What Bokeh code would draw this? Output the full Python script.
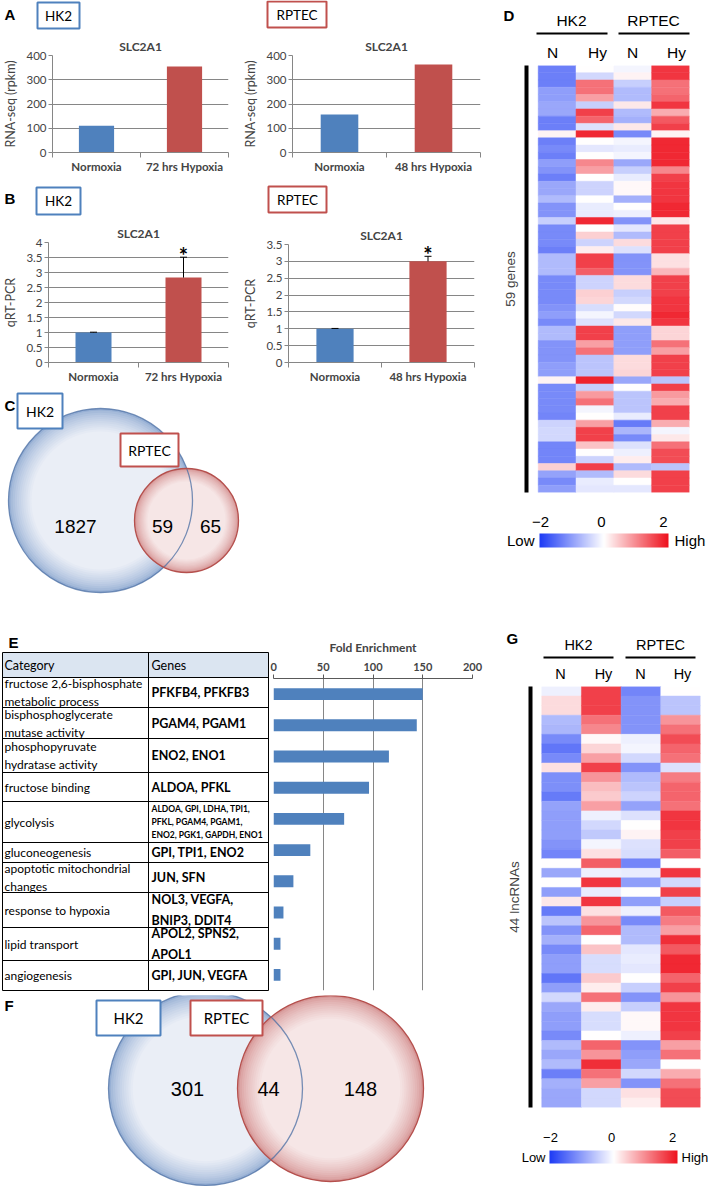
import numpy as np
from bokeh.plotting import figure
from bokeh.layouts import row, column
from bokeh.models import (Range1d, FactorRange, FixedTicker, LinearColorMapper,
                          ColumnDataSource, NumeralTickFormatter)
from bokeh.core.properties import value
from bokeh.embed import file_html
from bokeh.resources import INLINE

# ---------------------------------------------------------------- data
cond_hk2 = ["Normoxia", "72 hrs Hypoxia"]
cond_rptec = ["Normoxia", "48 hrs Hypoxia"]
bar_colors = ["#4f81bd", "#c0504d"]
rnaseq_hk2 = [110, 355]
rnaseq_rptec = [157, 363]
qpcr_hk2 = [1.0, 2.83]
qpcr_hk2_err = [0.01, 0.68]
qpcr_rptec = [1.0, 3.0]
qpcr_rptec_err = [0.01, 0.15]
sig_hk2 = ["", "*"]
sig_rptec = ["", "*"]

venn_genes = [1827, 59, 65]      # HK2 only, shared, RPTEC only
venn_lncrna = [301, 44, 148]

go_terms = ["fructose 2,6-bisphosphate\nmetabolic process",
            "bisphosphoglycerate\nmutase activity",
            "phosphopyruvate\nhydratase activity",
            "fructose binding",
            "glycolysis",
            "gluconeogenesis",
            "apoptotic mitochondrial\nchanges",
            "response to hypoxia",
            "lipid transport",
            "angiogenesis"]
go_genes = ["PFKFB4, PFKFB3", "PGAM4, PGAM1", "ENO2, ENO1", "ALDOA, PFKL",
            "ALDOA, GPI, LDHA, TPI1,\nPFKL, PGAM4, PGAM1,\nENO2, PGK1, GAPDH, ENO1",
            "GPI, TPI1, ENO2", "JUN, SFN", "NOL3, VEGFA,\nBNIP3, DDIT4",
            "APOL2, SPNS2,\nAPOL1", "GPI, JUN, VEGFA"]
fold_enrichment = [150, 144, 116, 96, 71, 37, 20, 10, 7, 7]
fold_ticks = [0, 50, 100, 150, 200]

heat_groups = ["HK2", "RPTEC"]
heat_conds = ["N", "Hy", "N", "Hy"]

genes_hk2_n = [-1.3, -1.3, -1.3, -1.0, -1.0, -0.9, -0.9, -1.3, -1.3, 0.1, -1.3, -1.2, -1.3, -1.0, -1.1,
               -1.3, -0.9, -0.9, -0.7, -1.1, -1.1, -0.5, -1.2, -1.2, -1.2, -1.3, -0.7, -0.7, -0.7, -1.2,
               -1.2, -1.2, -1.2, -1.1, -1.0, -1.2, -0.7, -0.7, -1.1, -1.1, -1.1, -1.0, -1.0, 0.1, -1.2,
               -1.2, -1.2, -1.2, -1.25, -0.45, -0.4, -0.4, -1.25, -1.25, -1.25, 0.4, -0.95, -1.2, -1.0]
genes_hk2_hy = [0.0, -0.4, 1.2, 1.2, 0.8, -0.5, 1.6, 1.3, -0.3, 1.8, 0.0, -0.25, 0.0, 1.0, 0.8,
                0.0, -0.45, -0.45, 0.0, -0.2, -0.2, 1.8, 0.0, 0.4, -0.45, 0.15, 1.6, 1.6, 1.35, -0.45,
                -0.45, 0.4, 0.35, -0.35, -0.1, -0.3, 1.6, 1.6, 0.8, 1.2, -0.6, -0.6, -0.6, 1.85, -0.5,
                0.85, 1.2, -0.1, 0.0, 0.8, 1.6, 1.6, 0.5, 0.0, -0.45, 1.6, -0.7, -0.2, -0.25]
genes_rptec_n = [-0.1, 0.1, -0.5, -0.7, -0.7, 0.2, -0.7, -0.8, 0.2, -1.2, -0.1, -0.2, -0.1, -0.9, -0.5,
                 -0.2, 0.05, 0.05, -0.8, 0.0, -0.15, -1.1, -0.25, -0.7, 0.3, -0.3, -1.1, -1.1, -1.1, 0.3,
                 0.3, -0.5, -0.4, 0.02, -0.4, 0.2, -1.0, -1.0, -1.0, -1.0, 0.3, 0.3, 0.35, -0.9, 0.0,
                 -0.6, -0.6, -0.6, -0.2, -1.35, -0.75, -1.2, -0.3, -0.15, 0.15, -0.7, 0.3, 0.0, -0.25]
genes_rptec_hy = [1.7, 1.7, 1.2, 1.2, 1.3, 1.7, 0.7, 1.4, 1.6, 0.1, 1.8, 1.8, 1.8, 1.8, 1.0,
                  1.6, 1.7, 1.7, 1.7, 1.8, 1.8, 0.2, 1.6, 1.6, 1.6, 1.6, 0.25, 0.25, 0.6, 1.6,
                  1.6, 1.6, 1.7, 1.7, 1.8, 1.7, 0.35, 0.35, 1.2, 0.8, 1.6, 1.6, 1.6, -0.6, 1.6,
                  0.85, 0.7, 1.6, 1.6, 0.7, -0.1, 0.2, 1.2, 1.5, 1.5, -0.6, 1.6, 1.6, 1.6]

lnc_hk2_n = [-0.15, 0.3, 0.3, -0.7, -0.75, -1.2, -1.4, -1.2, 0.25, -1.15, -1.15, -1.35, -0.95, -1.0, -1.0,
             -1.0, -1.1, -1.25, 0.0, -0.9, 0.0, -1.0, 0.2, -1.35, -0.6, -1.1, -0.8, -1.2, -1.0, -1.0,
             -1.4, -1.0, -0.4, -0.9, -1.0, -1.0, -1.2, -0.7, -0.9, -0.7, -1.3, -0.8, -0.9, -0.9]
lnc_hk2_hy = [1.6, 1.6, 1.6, 1.2, 1.0, 0.05, 0.35, 0.8, 1.6, 0.9, 0.55, 0.45, 0.8, -0.15, -0.4,
              -0.55, -0.1, 0.25, 1.35, -0.15, 1.7, -0.2, 1.7, 0.25, 0.9, 1.3, 0.0, 0.5, -0.35, -0.35,
              0.45, 0.15, 1.2, 0.15, -0.35, -0.35, 0.0, 1.3, 0.9, 1.75, 1.2, 0.8, -0.4, -0.4]
lnc_rptec_n = [-1.25, -1.1, -1.1, -1.1, -1.1, -0.15, -0.1, -0.4, -1.1, -0.7, -0.6, -0.45, -0.95, -0.3, 0.0,
               0.1, -0.3, -0.35, -1.25, -0.2, -1.0, 0.0, -1.0, -0.15, -1.2, -0.7, -0.7, -0.25, -0.2, -0.25,
               0.0, -0.5, -1.1, -0.5, 0.05, 0.05, -0.15, -1.1, -1.0, -0.9, -0.4, -1.1, 0.25, 0.15]
lnc_rptec_hy = [0.0, -0.6, -0.6, 0.9, 1.2, 1.5, 1.3, 1.2, -0.3, 1.1, 1.3, 1.3, 1.2, 1.7, 1.7,
                1.6, 1.6, 1.35, 0.0, 1.7, -0.4, 1.6, -0.5, 1.4, 1.1, 0.8, 1.75, 1.4, 1.8, 1.8,
                1.3, 1.6, 0.9, 1.7, 1.7, 1.7, 1.6, 0.8, 1.2, 0.0, 0.7, 1.2, 1.5, 1.5]

# ---------------------------------------------------------------- style
CAL = "Lato"
ARI = "Liberation Sans"
BLUE = "#4f81bd"
RED = "#c0504d"
AXC = "#868686"


def mix(c1, c2, t):
    return tuple(int(round(a + (b - a) * t)) for a, b in zip(c1, c2))


def hexc(c):
    return "#%02x%02x%02x" % c


LOWC, MIDC, HIGHC = (30, 60, 245), (255, 255, 255), (238, 18, 30)
PALETTE = []
for k in range(256):
    t = k / 255 * 2 - 1
    PALETTE.append(hexc(mix(MIDC, LOWC, -t) if t < 0 else mix(MIDC, HIGHC, t)))
MAPPER = LinearColorMapper(palette=PALETTE, low=-2, high=2)


def canvas(rx0, ry0, w, h, flip=True):
    rx1 = rx0 + w
    ry1 = ry0 + h
    yr = Range1d(ry1, ry0) if flip else Range1d(-ry1, -ry0)
    p = figure(width=w, height=h, x_range=Range1d(rx0, rx1), y_range=yr,
               x_axis_location=None, y_axis_location=None,
               toolbar_location=None, output_backend="svg", min_border=0,
               frame_align=False)
    p.grid.visible = False
    p.outline_line_color = None
    return p


def txt(p, x, y, s, size, font=ARI, bold=False, align="center", baseline="middle",
        color="black", lh=1.2):
    p.text(x=[x], y=[y], text=[s], text_font=value(font), text_font_size=f"{size}px",
           text_font_style="bold" if bold else "normal", text_align=align,
           text_baseline=baseline, text_color=color, text_line_height=lh)


def box(p, l, r, t, b, color, lw=2):
    p.quad(left=[l], right=[r], top=[t], bottom=[b], fill_color="white",
           line_color=color, line_width=lw)


def excel_chart(w, h, cats, vals, ymax, yticks, ylabel, borders, err=None, sig=None, fmt=None):
    l, r, t, b = borders
    n = len(cats)
    xs = [i + 0.5 for i in range(n)]          # category centres
    p = figure(width=w, height=h, x_range=Range1d(0, n), y_range=Range1d(0, ymax),
               toolbar_location=None, output_backend="svg", frame_align=False,
               min_border_left=l, min_border_right=r, min_border_top=t, min_border_bottom=b)
    p.title.text = "SLC2A1"
    p.title.align = "center"
    p.title.text_font = CAL
    p.title.text_font_size = "12px"
    p.title.text_font_style = "bold"
    p.title.standoff = 4
    p.outline_line_color = None
    p.xgrid.visible = False
    p.ygrid.grid_line_color = AXC
    p.ygrid.grid_line_width = 1
    p.yaxis.ticker = FixedTicker(ticks=yticks)
    if fmt is not None:
        p.yaxis.formatter = fmt
    p.yaxis.axis_label = ylabel
    p.yaxis.axis_label_text_font = CAL
    p.yaxis.axis_label_text_font_size = "12.5px"
    p.yaxis.axis_label_text_font_style = "normal"
    p.yaxis.axis_label_standoff = 5
    p.yaxis.major_label_text_font = CAL
    p.yaxis.major_label_text_font_size = "11.5px"
    p.yaxis.major_label_standoff = 2
    p.yaxis.major_tick_out = 4
    p.yaxis.major_tick_in = 0
    p.yaxis.minor_tick_line_color = None
    p.yaxis.axis_line_color = AXC
    p.yaxis.major_tick_line_color = AXC
    # x axis: labels at category centres, small separator ticks at category edges
    p.xaxis.ticker = FixedTicker(ticks=xs, minor_ticks=list(range(n + 1)))
    p.xaxis.major_label_overrides = {x: c for x, c in zip(xs, cats)}
    p.xaxis.axis_line_color = AXC
    p.xaxis.major_tick_line_color = None
    p.xaxis.major_tick_out = 0
    p.xaxis.major_tick_in = 0
    p.xaxis.minor_tick_line_color = AXC
    p.xaxis.minor_tick_out = 5
    p.xaxis.minor_tick_in = 0
    p.xaxis.major_label_text_font = CAL
    p.xaxis.major_label_text_font_style = "bold"
    p.xaxis.major_label_text_font_size = "11.5px"
    p.xaxis.major_label_standoff = 2
    src = dict(x=xs, cat=list(cats), top=list(vals), color=bar_colors)
    if err is not None:
        src["hi"] = [v + e for v, e in zip(vals, err)]
        src["sig"] = sig
    source = ColumnDataSource(src)
    p.vbar(x="x", top="top", width=0.4, fill_color="color", line_color=None, source=source)
    if err is not None:
        p.segment(x0="x", y0="top", x1="x", y1="hi", line_color="black", line_width=1, source=source)
        p.scatter(x="x", y="hi", marker="dash", size=7, line_color="black", line_width=1, source=source)
        p.text(x="x", y="hi", text="sig", text_font=value(CAL), text_font_size="22px",
               text_font_style="bold", text_align="center", text_baseline="top",
               y_offset=-15, source=source)
    return p


def sphere(p, cx, cy, r, rim, core):
    n = 12
    for k in range(n):
        f = k / (n - 1)
        p.circle(x=[cx], y=[cy], radius=r * (1 - 0.25 * f), fill_color=hexc(mix(rim, core, f ** 0.7)),
                 line_color=None)


def ring(p, cx, cy, r, color, alpha=1.0, lw=1.3):
    p.circle(x=[cx], y=[cy], radius=r, fill_color=None, line_color=color, line_alpha=alpha, line_width=lw)


def heat_fig(w, h, cols, borders, xstart, label):
    l, r, t, b = borders
    n = len(cols[0])
    xs, ys, vs = [], [], []
    for j, c in enumerate(cols):
        for i, v in enumerate(c):
            xs.append(j)
            ys.append(i)
            vs.append(v)
    src = ColumnDataSource(dict(x=xs, y=ys, v=vs))
    p = figure(width=w, height=h, x_range=Range1d(xstart, len(cols) - 0.5),
               y_range=Range1d(n - 0.5, -0.5), x_axis_location=None, y_axis_location="left",
               toolbar_location=None, output_backend="svg", frame_align=False,
               min_border_left=l, min_border_right=r, min_border_top=t, min_border_bottom=b)
    p.grid.visible = False
    p.outline_line_color = None
    cm = {"field": "v", "transform": MAPPER}
    p.rect(x="x", y="y", width=1, height=1, fill_color=cm, line_color=cm, line_width=0.5, source=src)
    ax = p.yaxis[0]
    ax.ticker = FixedTicker(ticks=[])
    ax.axis_line_width = 4
    ax.axis_line_color = "black"
    ax.major_tick_out = 0
    ax.major_tick_in = 0
    ax.minor_tick_line_color = None
    ax.axis_label = label
    ax.axis_label_text_font = ARI
    ax.axis_label_text_font_size = "13.5px"
    ax.axis_label_text_font_style = "normal"
    ax.axis_label_standoff = 9
    return p


def heat_header(p, letter, lx, ly, gx, gy, line_y, segs, cond_x, cond_y, fs):
    txt(p, lx, ly, letter, 15, ARI, bold=True, align="left")
    for g, x in zip(heat_groups, gx):
        txt(p, x, gy, g, fs, ARI)
    for (a, b2) in segs:
        p.segment(x0=[a], y0=[line_y], x1=[b2], y1=[line_y], line_color="black", line_width=2)
    for c, x in zip(heat_conds, cond_x):
        txt(p, x, cond_y, c, fs, ARI)


def cbar(p, x0, x1, y0, y1, lab_y, lab_x, low_x, high_x, fs):
    # canvas drawn with negated y (flip=False)
    p.image(image=[np.linspace(-2, 2, 256)[None, :]], x=x0, y=-y1, dw=x1 - x0, dh=y1 - y0,
            color_mapper=MAPPER)
    for s, x in zip(["\u22122", "0", "2"], lab_x):
        txt(p, x, -lab_y, s, fs, ARI)
    txt(p, low_x, -(y0 + y1) / 2, "Low", fs, ARI, align="right")
    txt(p, high_x, -(y0 + y1) / 2, "High", fs, ARI, align="left")


# ---------------------------------------------------------------- sizes (1 px = 1 ref px)
LW, RW = 485, 223

# ---------------- panel A (ref y 0..175)
A1h = canvas(0, 0, 240, 30)
txt(A1h, 4, 14, "A", 15, ARI, bold=True, align="left")
box(A1h, 37, 79, 2, 28, BLUE)
txt(A1h, 58, 15, "HK2", 13.5, CAL)
A1 = excel_chart(240, 145, cond_hk2, rnaseq_hk2, 400, [0, 100, 200, 300, 400],
                 "RNA-seq (rpkm)", (43, 12, 25, 23))

A2h = canvas(240, 0, 245, 30)
box(A2h, 267, 326, 1, 27, RED)
txt(A2h, 296.5, 14, "RPTEC", 13.5, CAL)
A2 = excel_chart(245, 145, cond_rptec, rnaseq_rptec, 400, [0, 100, 200, 300, 400],
                 "RNA-seq (rpkm)", (48, 5, 25, 18))

# ---------------- panel B (ref y 175..385)
B1h = canvas(0, 175, 240, 42)
txt(B1h, 4, 198, "B", 15, ARI, bold=True, align="left")
box(B1h, 36, 80, 187, 214, BLUE)
txt(B1h, 58, 200.5, "HK2", 13.5, CAL)
B1 = excel_chart(240, 168, cond_hk2, qpcr_hk2, 4, [0, 0.5, 1, 1.5, 2, 2.5, 3, 3.5, 4],
                 "qRT-PCR", (43, 12, 25, 22), err=qpcr_hk2_err, sig=sig_hk2,
                 fmt=NumeralTickFormatter(format="0.[0]"))

B2h = canvas(240, 175, 245, 42)
box(B2h, 268, 326, 186, 212, RED)
txt(B2h, 297, 199, "RPTEC", 13.5, CAL)
B2 = excel_chart(245, 168, cond_rptec, qpcr_rptec, 3.5, [0, 0.5, 1, 1.5, 2, 2.5, 3, 3.5],
                 "qRT-PCR", (42, 11, 27, 20), err=qpcr_rptec_err, sig=sig_rptec,
                 fmt=NumeralTickFormatter(format="0.[0]"))

# ---------------- panel C (Venn genes, ref y 385..600)
HK2_RIM, HK2_CORE, HK2_LINE = (150, 175, 212), (234, 238, 246), "#4a6da3"
RP_RIM, RP_CORE, RP_LINE = (214, 150, 150), (246, 230, 230), "#b5504d"
C = canvas(0, 385, LW, 215)
txt(C, 4, 405, "C", 15, ARI, bold=True, align="left")
sphere(C, 100, 500, 92, HK2_RIM, HK2_CORE)
sphere(C, 186, 520, 52, RP_RIM, RP_CORE)
ring(C, 100, 500, 92, HK2_LINE, alpha=0.75)
ring(C, 186, 520, 52, RP_LINE)
box(C, 17, 62, 393, 428, BLUE)
txt(C, 39.5, 410.5, "HK2", 14, CAL)
box(C, 120, 178, 433, 466, RED)
txt(C, 149, 449.5, "RPTEC", 14, CAL)
for v, x in zip(venn_genes, [75, 162, 210]):
    txt(C, x, 526, str(v), 19, ARI)

# ---------------- panel D (heatmap 59 genes, ref y 0..600)
Dh = canvas(485, 0, RW, 62)
heat_header(Dh, "D", 503, 15, [571, 653], 20, 33, [(536, 607), (618, 689)],
            [552, 597, 632, 676], 52, 15.5)
Dheat = heat_fig(RW, 436, [genes_hk2_n, genes_hk2_hy, genes_rptec_n, genes_rptec_hy],
                 (41, 19, 3, 6), -0.81, f"{len(genes_hk2_n)} genes")
Dcb = canvas(485, 498, RW, 102, flip=False)
cbar(Dcb, 539, 668, 533, 547, 521, [540, 601, 663], 534, 674, 15)

# ---------------- panel E (table + enrichment bars, ref y 600..995)
Et = canvas(0, 600, 270, 395)
txt(Et, 8, 642, "E", 15, ARI, bold=True, align="left")
row_edges = [677, 707, 738, 772, 801, 842, 862, 892, 927, 960, 990]
Et.quad(left=[2], right=[268], top=[652], bottom=[677], fill_color="#dbe5f1", line_color=None)
Et.segment(x0=[2] * (len(row_edges) + 1), x1=[268] * (len(row_edges) + 1),
           y0=[652] + row_edges, y1=[652] + row_edges, line_color="black", line_width=1)
Et.segment(x0=[2, 148, 268], x1=[2, 148, 268], y0=[652] * 3, y1=[990] * 3,
           line_color="black", line_width=1)
txt(Et, 4, 664.5, "Category", 12.5, CAL, align="left")
txt(Et, 151, 664.5, "Genes", 12.5, CAL, align="left")
for i, (term, gl) in enumerate(zip(go_terms, go_genes)):
    cy = (row_edges[i] + row_edges[i + 1]) / 2
    txt(Et, 4, cy, term, 12, CAL, align="left", lh=1.2)
    if gl.count("\n") >= 2:
        txt(Et, 151, cy, gl, 8.5, CAL, bold=True, align="left", lh=1.3)
    else:
        txt(Et, 151, cy, gl, 12.5, CAL, bold=True, align="left", lh=1.35)

go_labels = [t.replace("\n", " ") for t in go_terms]
Eb = figure(width=215, height=395, x_range=Range1d(0, 200),
            y_range=FactorRange(*reversed(go_labels)), x_axis_location="above",
            y_axis_location=None, toolbar_location=None, output_backend="svg",
            frame_align=False,
            min_border_left=3, min_border_right=13, min_border_top=78, min_border_bottom=5)
Eb.outline_line_color = None
Eb.ygrid.visible = False
Eb.xgrid.grid_line_color = AXC
Eb.xaxis.ticker = FixedTicker(ticks=fold_ticks)
Eb.xaxis.axis_label = "Fold Enrichment"
Eb.xaxis.axis_label_text_font = CAL
Eb.xaxis.axis_label_text_font_style = "bold"
Eb.xaxis.axis_label_text_font_size = "12px"
Eb.xaxis.axis_label_standoff = 5
Eb.xaxis.major_label_text_font = CAL
Eb.xaxis.major_label_text_font_style = "bold"
Eb.xaxis.major_label_text_font_size = "11px"
Eb.xaxis.major_label_standoff = 4
Eb.xaxis.major_tick_out = 4
Eb.xaxis.major_tick_in = 0
Eb.xaxis.minor_tick_line_color = None
Eb.xaxis.axis_line_color = "#595959"
Eb.xaxis.major_tick_line_color = "#595959"
Eb.hbar(y=go_labels, right=fold_enrichment, height=0.38, fill_color=BLUE, line_color=None)

# ---------------- panel F (Venn lncRNAs, ref y 995..1194)
F = canvas(0, 995, LW, 199)
txt(F, 4, 1005, "F", 15, ARI, bold=True, align="left")
sphere(F, 205, 1088, 97, HK2_RIM, HK2_CORE)
sphere(F, 330, 1088, 93, RP_RIM, RP_CORE)
ring(F, 205, 1088, 97, HK2_LINE, alpha=0.75)
ring(F, 330, 1088, 93, RP_LINE)
box(F, 96, 160, 1000, 1035, BLUE)
txt(F, 128, 1017.5, "HK2", 15, CAL)
box(F, 190, 262, 1000, 1035, RED)
txt(F, 226, 1017.5, "RPTEC", 15, CAL)
for v, x in zip(venn_lncrna, [187, 268, 360]):
    txt(F, x, 1088, str(v), 20, ARI)

# ---------------- panel G (heatmap 44 lncRNAs, ref y 600..1194)
Gh = canvas(485, 600, RW, 83)
heat_header(Gh, "G", 506, 638, [578, 660], 644, 657, [(543, 613), (625, 695)],
            [560, 603, 640, 682], 673, 14.5)
Gheat = heat_fig(RW, 427, [lnc_hk2_n, lnc_hk2_hy, lnc_rptec_n, lnc_rptec_hy],
                 (45, 8, 3, 3), -0.784, f"{len(lnc_hk2_n)} lncRNAs")
Gcb = canvas(485, 1110, RW, 84, flip=False)
cbar(Gcb, 549, 677, 1150, 1163, 1137, [550, 611, 672], 545, 681, 13)

# ---------------------------------------------------------------- layout
top_left = column(row(column(A1h, A1), column(A2h, A2)),
                  row(column(B1h, B1), column(B2h, B2)),
                  C)
top = row(top_left, column(Dh, Dheat, Dcb))
bottom_left = column(row(Et, Eb), F)
bottom = row(bottom_left, column(Gh, Gheat, Gcb))
layout = column(top, bottom)

open("out.html", "w").write(file_html(layout, INLINE, title="SLC2A1 hypoxia figure"))
